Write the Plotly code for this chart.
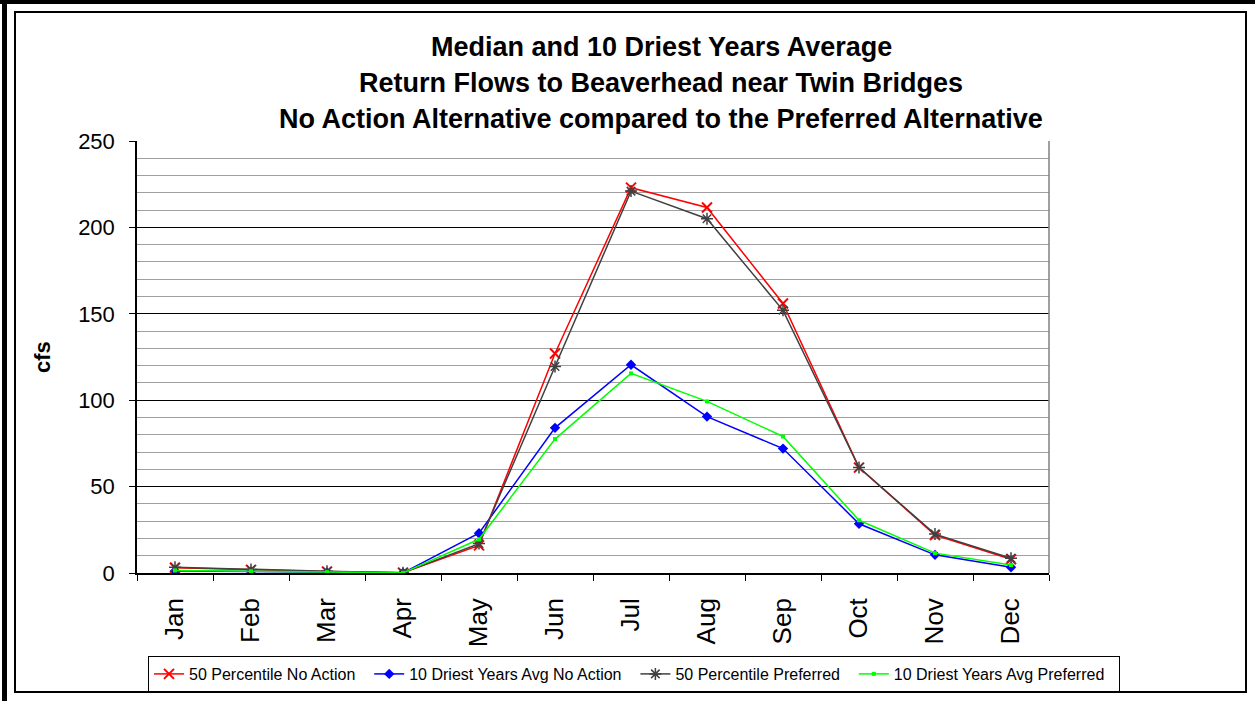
import plotly.graph_objects as go

months = ["Jan", "Feb", "Mar", "Apr", "May", "Jun", "Jul", "Aug", "Sep", "Oct", "Nov", "Dec"]
p50_no_action = [3.0, 1.8, 0.8, 0.2, 16, 127, 223, 211.5, 156, 61, 22, 8]
dry_no_action = [1.2, 0.8, 0.3, 0.1, 23, 84, 120.5, 90.5, 72, 28.5, 10.5, 3.3]
p50_preferred = [3.3, 2.0, 1.0, 0.2, 17, 119.5, 221, 205, 152, 61, 22.5, 8.5]
dry_preferred = [1.5, 1.0, 0.5, 0.1, 19.5, 77.5, 115.5, 99.3, 79, 30.5, 11.5, 4.6]

title_lines = [
    "Median and 10 Driest Years Average",
    "Return Flows to Beaverhead near Twin Bridges",
    "No Action Alternative compared to the Preferred Alternative",
]

FONT = "Liberation Sans, Arial, sans-serif"
PAD = "\u00a0\u00a0"  # a little extra room between legend entries

# plot area in pixels (used to place frame/titles in paper coords)
L, R, T, B = 137, 1049, 141, 573
W, H = R - L, B - T


def px(x):
    return (x - L) / W


def py(y):
    return (B - y) / H


fig = go.Figure()

fig.add_trace(go.Scatter(
    x=months, y=p50_no_action, mode="lines+markers", name="50 Percentile No Action" + PAD,
    line=dict(color="#FF0000", width=1.5),
    marker=dict(symbol="x-thin-open", size=10, line=dict(color="#FF0000", width=2))))
fig.add_trace(go.Scatter(
    x=months, y=dry_no_action, mode="lines+markers", name="10 Driest Years Avg No Action" + PAD,
    line=dict(color="#0000FF", width=1.5),
    marker=dict(symbol="diamond", size=8, color="#0000FF")))
fig.add_trace(go.Scatter(
    x=months, y=p50_preferred, mode="lines+markers", name="50 Percentile Preferred" + PAD,
    line=dict(color="#404040", width=1.5),
    marker=dict(symbol="asterisk-open", size=10, line=dict(color="#404040", width=1.5))))
fig.add_trace(go.Scatter(
    x=months, y=dry_preferred, mode="lines+markers", name="10 Driest Years Avg Preferred" + PAD,
    line=dict(color="#00FF00", width=1.5),
    marker=dict(symbol="square", size=4, color="#00FF00")))

annotations = []
for i, line in enumerate(title_lines):
    annotations.append(dict(
        text="<b>%s</b>" % line, x=px(661), y=py(47 + 36 * i), xref="paper", yref="paper",
        xanchor="center", yanchor="middle", showarrow=False,
        font=dict(family=FONT, size=27, color="black")))
annotations.append(dict(
    text="<b>cfs</b>", x=px(42), y=py(357), xref="paper", yref="paper", textangle=-90,
    xanchor="center", yanchor="middle", showarrow=False,
    font=dict(family=FONT, size=22, color="black")))

shapes = [
    # outer frame
    dict(type="rect", xref="paper", yref="paper", x0=px(15), x1=px(1246), y0=py(692), y1=py(12),
         line=dict(color="black", width=2), layer="below"),
    # thick page edge at top and left
    dict(type="rect", xref="paper", yref="paper", x0=px(0), x1=px(1255), y0=py(4), y1=py(0),
         line=dict(width=0), fillcolor="black"),
    dict(type="rect", xref="paper", yref="paper", x0=px(2), x1=px(7), y0=py(701), y1=py(0),
         line=dict(width=0), fillcolor="black"),
    # right border of plot area
    dict(type="line", xref="paper", yref="paper", x0=1, x1=1, y0=0, y1=1,
         line=dict(color="#808080", width=1.5)),
]

fig.update_layout(
    width=1255, height=701,
    margin=dict(l=L, r=1255 - R, t=T, b=701 - B, autoexpand=False),
    paper_bgcolor="white", plot_bgcolor="white",
    font=dict(family=FONT, color="black"),
    showlegend=True,
    # anchored on the right, outside the plot, so it may be wider than the plot area
    legend=dict(
        orientation="h", x=px(1120), y=py(656), xanchor="right", yanchor="top",
        bgcolor="white", bordercolor="black", borderwidth=1,
        font=dict(family=FONT, size=16, color="black"),
        traceorder="normal", itemwidth=30),
    annotations=annotations,
    shapes=shapes,
    xaxis=dict(
        type="category", tickangle=-90, tickson="boundaries", ticks="outside", ticklen=6,
        tickcolor="black", showline=True, linecolor="black", linewidth=1.5, showgrid=False,
        tickfont=dict(family=FONT, size=26, color="black"), range=[-0.5, 11.5],
        ticklabelstandoff=13),
    yaxis=dict(
        range=[0, 250], dtick=50, ticks="outside", ticklen=6, tickcolor="black",
        showline=True, linecolor="black", linewidth=1.5, showgrid=True,
        gridcolor="black", gridwidth=1, zeroline=False,
        minor=dict(dtick=10, showgrid=True, gridcolor="#A0A0A0", gridwidth=1),
        tickfont=dict(family=FONT, size=22, color="black"), ticklabelstandoff=10),
)

fig.write_html("out.html", config={"displayModeBar": False},
               post_script="document.body.style.margin='0px';")
